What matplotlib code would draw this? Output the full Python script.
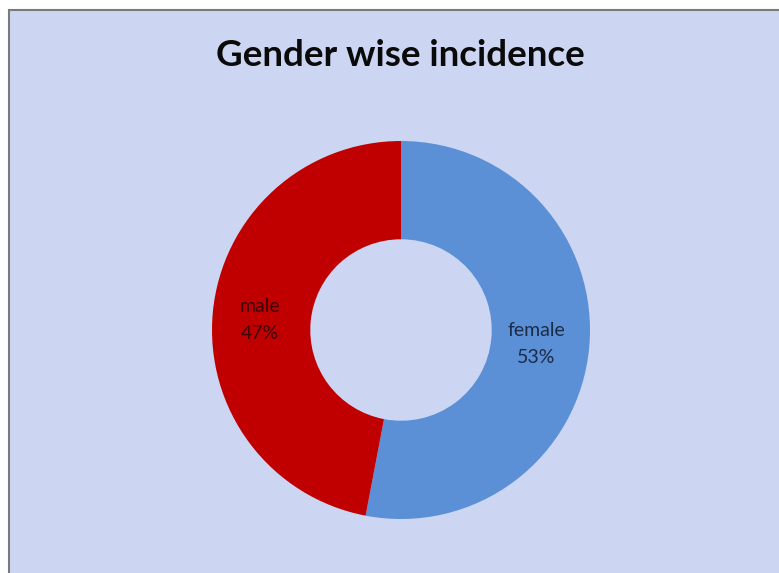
import matplotlib
matplotlib.use("Agg")
import matplotlib.pyplot as plt
from matplotlib.patches import Rectangle

labels = ["female", "male"]
shares = [53, 47]
colors = ["#5B8FD6", "#C00000"]
text_colors = ["#1B2C48", "#3A0404"]

W, H = 779, 573
fig = plt.figure(figsize=(W / 100, H / 100), dpi=100, facecolor="white")

# chart area panel with thin grey border (runs off the right/bottom edges)
fig.patches.append(Rectangle((9 / W, -0.02), 1.1, 1.02 - 10 / H, transform=fig.transFigure,
                             facecolor="#CCD6F2", edgecolor="#7a7a7a", lw=1.5, zorder=-5))

fig.text(400 / W, 1 - 55 / H, "Gender wise incidence", ha="center", va="center",
         fontsize=26.5, fontweight="bold", family="Lato", color="#0a0a0a")

cx, cy, r = 401, 330, 189
ax = fig.add_axes([(cx - r) / W, (H - cy - r) / H, 2 * r / W, 2 * r / H])
ax.set_zorder(2)
ax.pie(shares, colors=colors, startangle=90, counterclock=False, radius=1,
       wedgeprops=dict(width=0.52, edgecolor="none"))
ax.set_xlim(-1, 1); ax.set_ylim(-1, 1)
ax.axis("off")

# label positions in the ring (data units of the pie axes)
label_xy = [((536 - cx) / r, (cy - 344) / r), ((260 - cx) / r, (cy - 320) / r)]
for lab, s, (x, y), tc in zip(labels, shares, label_xy, text_colors):
    ax.text(x, y, f"{lab}\n{s}%", ha="center", va="center", fontsize=14,
            color=tc, family="Lato", linespacing=1.7)

plt.savefig("out.png", dpi=100, facecolor="white")
print("saved")
